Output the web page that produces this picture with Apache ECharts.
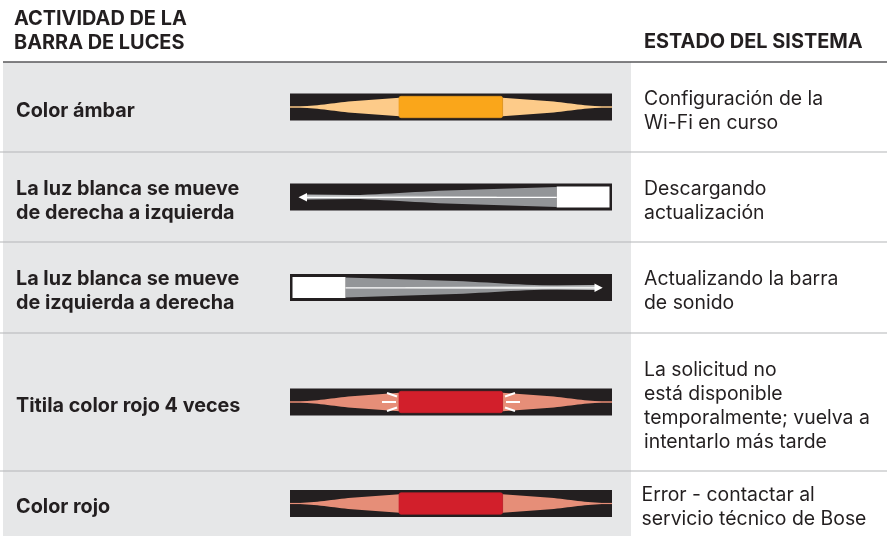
<!DOCTYPE html>
<html><head><meta charset="utf-8">
<style>html,body{margin:0;padding:0;background:#fff}#c{width:887px;height:536px}</style>
<script src="https://cdn.jsdelivr.net/npm/echarts@6/dist/echarts.min.js"></script>
</head><body><div id="c"></div>
<script>
var headerLeft = "ACTIVIDAD DE LA\nBARRA DE LUCES";
var headerRight = "ESTADO DEL SISTEMA";
var activities = ["Color ámbar","La luz blanca se mueve\nde derecha a izquierda","La luz blanca se mueve\nde izquierda a derecha","Titila color rojo 4 veces","Color rojo"];
var statuses = ["Configuración de la\nWi-Fi en curso","Descargando\nactualización","Actualizando la barra\nde sonido","La solicitud no\nestá disponible\ntemporalmente; vuelva a\nintentarlo más tarde","Error - contactar al\nservicio técnico de Bose"];
var patterns = ["glow","left","right","flash","glow"];
var coreColors = ["#faa61a","#ffffff","#ffffff","#d21f2b","#d21f2b"];
var coreEdges = ["#ec9c1b","#ffffff","#ffffff","#cb1f2b","#cb1f2b"];
var glowColors = ["#fdcb89","#939598","#939598","#e68e78","#e68e78"];
var tipColors = ["#c9a06a","#939598","#939598","#c9755f","#c9755f"];
var rowEdges = [62,152,242,333,471,536];

var FONT = 'Inter, "Liberation Sans", sans-serif';
var INK = '#231f20';
var rows = activities.map(function(_, i){ return i; });
var flareT = [0,.1,.21,.35,.52,.75,.9,1];
var flareH = [0,.02,.1,.3,.56,.78,.91,1];
function flare(t){
  for(var k=1;k<flareT.length;k++){
    if(t<=flareT[k]){ var u=(t-flareT[k-1])/(flareT[k]-flareT[k-1]); return flareH[k-1]+(flareH[k]-flareH[k-1])*u; }
  }
  return 1;
}

function renderRow(params, api){
  var i = api.value(0);
  var P = function(x,y){ return api.coord([x,y]); };
  var top = rowEdges[i], bot = rowEdges[i+1];
  var mid = (top+bot)/2;
  var kids = [];
  function poly(pts, fill){ kids.push({type:'polygon',shape:{points:pts.map(function(p){return P(p[0],p[1]);})},style:{fill:fill}}); }
  function rect(x0,y0,x1,y1,fill,r,stroke){ var a=P(x0,y0), b=P(x1,y1); kids.push({type:'rect',shape:{x:a[0],y:a[1],width:b[0]-a[0],height:b[1]-a[1],r:r||0},style:{fill:fill,stroke:stroke||null,lineWidth:stroke?0.7:0}}); }
  function seg(x0,y0,x1,y1,col,w){ var a=P(x0,y0), b=P(x1,y1); kids.push({type:'line',shape:{x1:a[0],y1:a[1],x2:b[0],y2:b[1]},style:{stroke:col,lineWidth:w}}); }
  function curve(x0,x1,h0,h1,fill){
    var pts=[], n=32, k, t, x;
    for(k=0;k<=n;k++){ t=k/n; x=x0+(x1-x0)*t; pts.push([x,mid-(h0+(h1-h0)*flare(t))]); }
    for(k=n;k>=0;k--){ t=k/n; x=x0+(x1-x0)*t; pts.push([x,mid+(h0+(h1-h0)*flare(t))]); }
    poly(pts,fill);
  }
  rect(3,top,631,bot,'#e6e7e8');
  if(i===0) seg(3,top,887,top,'#58595b',1.6); else seg(0,top,887,top,'#b4b6b8',1.2);
  rect(290,mid-13.4,612,mid+13.4,INK);
  var pat=patterns[i], core=coreColors[i], glow=glowColors[i];
  if(pat==='glow'||pat==='flash'){
    seg(290,mid,320,mid,tipColors[i],1.2);
    seg(612,mid,582,mid,tipColors[i],1.2);
    curve(290,399.5,0.4,9.2,glow);
    curve(612,502.5,0.4,9.2,glow);
    rect(399,mid-10.7,502.6,mid+10.7,core,2,coreEdges[i]);
    if(pat==='flash'){
      seg(382,mid,396,mid,'#fff',2);
      seg(506,mid,520,mid,'#fff',2);
      seg(387,mid-9,397,mid-5.5,'#fff',2);
      seg(387,mid+9,397,mid+5.5,'#fff',2);
      seg(505,mid-5.5,515,mid-9,'#fff',2);
      seg(505,mid+5.5,515,mid+9,'#fff',2);
    }
  } else {
    var L=pat==='left';
    var wx0=L?556.7:292.5, wx1=L?609.5:345.5;
    var flareBase=L?wx0:wx1, flareTip=L?305:597;
    curve(flareTip,flareBase,1,10,glow);
    poly([[flareBase+(L?-60:60),mid-0.6],[flareBase+(L?-60:60),mid+0.6],[flareTip,mid+2.6],[flareTip,mid-2.6]],'#b5b7b9');
    rect(wx0,mid-10.5,wx1,mid+10.5,core);
    var lx=L?306:596;
    seg(flareBase,mid+0.3,lx,mid+0.3,'#fff',1.3);
    var tip=L?298.5:602.7, b=L?307:594.5;
    poly([[tip,mid+0.3],[b,mid-4],[b,mid+4.6]],'#fff');
  }
  function txt(str,x,y,weight,size){
    var a=P(x,y);
    kids.push({type:'text',style:{text:str,x:a[0],y:a[1],fill:INK,font:weight+' '+size+'px '+FONT,lineHeight:24,align:'left',verticalAlign:'middle'}});
  }
  txt(activities[i],16,mid+4,700,19.8);
  txt(statuses[i],i===4?641.5:644,mid+4,400,19.4);
  if(i===0){
    txt(headerLeft,14,31,700,19.9);
    txt(headerRight,644,42,700,19.9);
  }
  return {type:'group',children:kids};
}

var chart = echarts.init(document.getElementById('c'),null,{renderer:'canvas'});
chart.setOption({
  animation:false,
  backgroundColor:'#fff',
  grid:{left:0,right:0,top:0,bottom:0,containLabel:false},
  xAxis:{type:'value',min:0,max:887,show:false},
  yAxis:{type:'value',min:0,max:536,inverse:true,show:false},
  series:[{type:'custom',coordinateSystem:'cartesian2d',silent:true,clip:false,data:rows.map(function(i){return [i];}),encode:{x:0,y:0},renderItem:renderRow}]
});
</script></body></html>
